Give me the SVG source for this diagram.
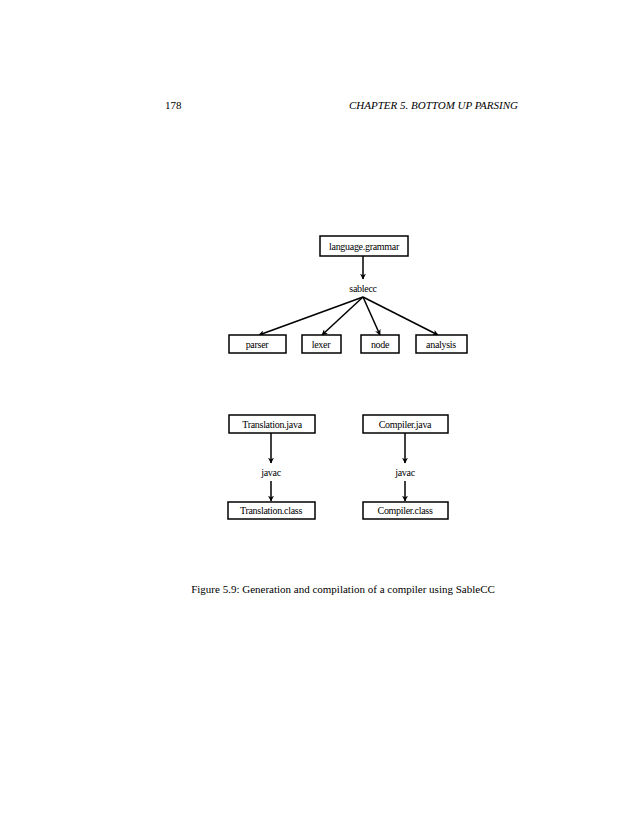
<svg xmlns="http://www.w3.org/2000/svg" width="630" height="815" viewBox="0 0 630 815">
<style>
.b{fill:#fff;stroke:#000;stroke-width:1.5}
.t{font-family:"Liberation Serif",serif;font-size:10px;text-anchor:middle;letter-spacing:-0.3px}
.h{font-family:"Liberation Serif",serif;font-size:11px}
.c line{stroke:#000;stroke-width:1.5;marker-end:url(#a)}
</style>
<defs><marker id="a" viewBox="0 0 10 10" refX="9" refY="5" markerWidth="6" markerHeight="6" orient="auto" markerUnits="userSpaceOnUse"><path d="M0,0L10,5L0,10L3,5z" fill="#000"/></marker></defs>
<rect width="630" height="815" fill="#fff"/>
<text class="h" x="165" y="109">178</text>
<text class="h" x="518" y="109" text-anchor="end" font-style="italic">CHAPTER 5.   BOTTOM UP PARSING</text>
<g class="c">
<line x1="363" y1="256" x2="363" y2="279"/>
<line x1="363" y1="297" x2="259" y2="335"/>
<line x1="363" y1="297" x2="322" y2="335"/>
<line x1="363" y1="297" x2="380" y2="335"/>
<line x1="363" y1="297" x2="438" y2="335"/>
<line x1="271" y1="433" x2="271" y2="463"/>
<line x1="271" y1="481" x2="271" y2="501"/>
<line x1="405" y1="433" x2="405" y2="463"/>
<line x1="405" y1="481" x2="405" y2="501"/>
</g>
<g id="grammar"><rect class="b" x="320" y="236" width="88" height="20"/><text class="t" x="364" y="250">language.grammar</text></g>
<g id="sablecc"><text class="t" x="363" y="292">sablecc</text></g>
<g id="parser"><rect class="b" x="229" y="335" width="57" height="18"/><text class="t" x="257" y="348">parser</text></g>
<g id="lexer"><rect class="b" x="302" y="335" width="39" height="18"/><text class="t" x="321" y="348">lexer</text></g>
<g id="node"><rect class="b" x="361" y="335" width="38" height="18"/><text class="t" x="380" y="348">node</text></g>
<g id="analysis"><rect class="b" x="416" y="335" width="51" height="18"/><text class="t" x="441" y="348">analysis</text></g>
<g id="tjava"><rect class="b" x="229" y="415" width="86" height="18"/><text class="t" x="272" y="428">Translation.java</text></g>
<g id="javac1"><text class="t" x="271" y="476">javac</text></g>
<g id="tclass"><rect class="b" x="228" y="502" width="87" height="17"/><text class="t" x="271" y="514">Translation.class</text></g>
<g id="cjava"><rect class="b" x="363" y="415" width="85" height="18"/><text class="t" x="405" y="428">Compiler.java</text></g>
<g id="javac2"><text class="t" x="405" y="476">javac</text></g>
<g id="cclass"><rect class="b" x="363" y="502" width="85" height="17"/><text class="t" x="405" y="514">Compiler.class</text></g>
<text class="h" x="343" y="593" text-anchor="middle">Figure 5.9: Generation and compilation of a compiler using SableCC</text>
</svg>
